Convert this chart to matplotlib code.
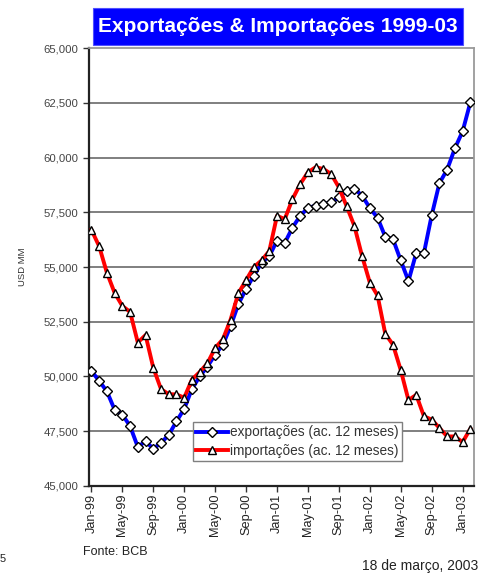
import matplotlib.pyplot as plt
import numpy as np
from matplotlib.patches import Rectangle

plt.rcParams['font.family'] = ['Liberation Sans', 'DejaVu Sans']

# monthly values, Jan-99 .. Feb-03 (USD MM, accumulated 12 months)
exports = [50250, 49800, 49320, 48480, 48260, 47730, 46780, 47040, 46700, 46960,
           47330, 47950, 48520, 49430, 50000, 50450, 51000, 51450, 52300, 53300,
           54000, 54600, 55200, 55500, 56200, 56100, 56800, 57340, 57700, 57800,
           57880, 57950, 58180, 58490, 58580, 58260, 57700, 57250, 56380, 56270,
           55300, 54360, 55640, 55640, 57360, 58830, 59450, 60420, 61200, 62520]
imports = [56700, 55950, 54740, 53820, 53220, 52950, 51550, 51890, 50400, 49420,
           49190, 49180, 49030, 49860, 50200, 50600, 51300, 51700, 52600, 53800,
           54400, 55000, 55300, 55730, 57340, 57190, 58100, 58790, 59330, 59560,
           59480, 59250, 58640, 57780, 56880, 55500, 54290, 53700, 51950, 51450,
           50290, 48920, 49160, 48180, 48030, 47650, 47260, 47260, 47000, 47610]
tick_labels = ['Jan-99', 'May-99', 'Sep-99', 'Jan-00', 'May-00', 'Sep-00', 'Jan-01',
               'May-01', 'Sep-01', 'Jan-02', 'May-02', 'Sep-02', 'Jan-03']
y_ticks = [45000, 47500, 50000, 52500, 55000, 57500, 60000, 62500, 65000]

x = np.arange(len(exports))

fig = plt.figure(figsize=(4.79, 5.73), dpi=100)
ax = fig.add_axes([0.186, 0.152, 0.804, 0.764])

for v in y_ticks[1:-1]:
    ax.axhline(v, color='#7f7f7f', lw=1.4, zorder=1)

ax.plot(x, exports, color='#0000ff', lw=2.8, marker='D', ms=5, mfc='white',
        mec='black', mew=1.0, label='exportações (ac. 12 meses)', zorder=3)
ax.plot(x, imports, color='#ff0000', lw=2.8, marker='^', ms=5.5, mfc='white',
        mec='black', mew=1.0, label='importações (ac. 12 meses)', zorder=3)

ax.set_xlim(-0.3, 49.5)
ax.set_ylim(45000, 65000)
ax.set_yticks(y_ticks)
ax.set_yticklabels([f'{v:,}' for v in y_ticks], fontsize=8.2, color='#444444')
ax.set_xticks(np.arange(0, 50, 4))
ax.set_xticklabels(tick_labels, rotation=90, fontsize=9.2, color='#222222')
ax.tick_params(axis='y', direction='out', length=4, width=1, color='#333333', pad=3.5)
ax.tick_params(axis='x', direction='out', length=4, width=1, color='#333333', pad=1.5)
ax.set_ylabel('USD MM', fontsize=6.8, color='#333333', labelpad=12)

for s in ['left', 'bottom']:
    ax.spines[s].set_color('#222222')
    ax.spines[s].set_linewidth(1.6)
for s in ['top', 'right']:
    ax.spines[s].set_color('#9a9a9a')
    ax.spines[s].set_linewidth(1.3)

leg = ax.legend(loc='lower left', bbox_to_anchor=(0.27, 0.057), borderaxespad=0,
                fontsize=9.8, fancybox=False, framealpha=1, edgecolor='#7f7f7f',
                handlelength=2.3, handletextpad=0.15, borderpad=0.25, labelspacing=0.3)
leg.get_frame().set_linewidth(1.0)
for t in leg.get_texts():
    t.set_color('#333333')

# title box
fig.patches.append(Rectangle((0.194, 0.9215), 0.773, 0.0646, transform=fig.transFigure,
                             facecolor='#0000ff', edgecolor='#5050ff', lw=0.8, zorder=5))
fig.text(0.580, 0.9538, 'Exportações & Importações 1999-03', color='white',
         fontsize=15, fontweight='bold', ha='center', va='center', zorder=6)

fig.text(0.173, 0.037, 'Fonte: BCB', fontsize=9, color='#222222', va='center')
fig.text(0.999, 0.012, '18 de março, 2003', fontsize=10, color='#222222', ha='right', va='center')
fig.text(0.0, 0.025, '5', fontsize=8, color='#222222', va='center')

fig.savefig('out.png', dpi=100)
